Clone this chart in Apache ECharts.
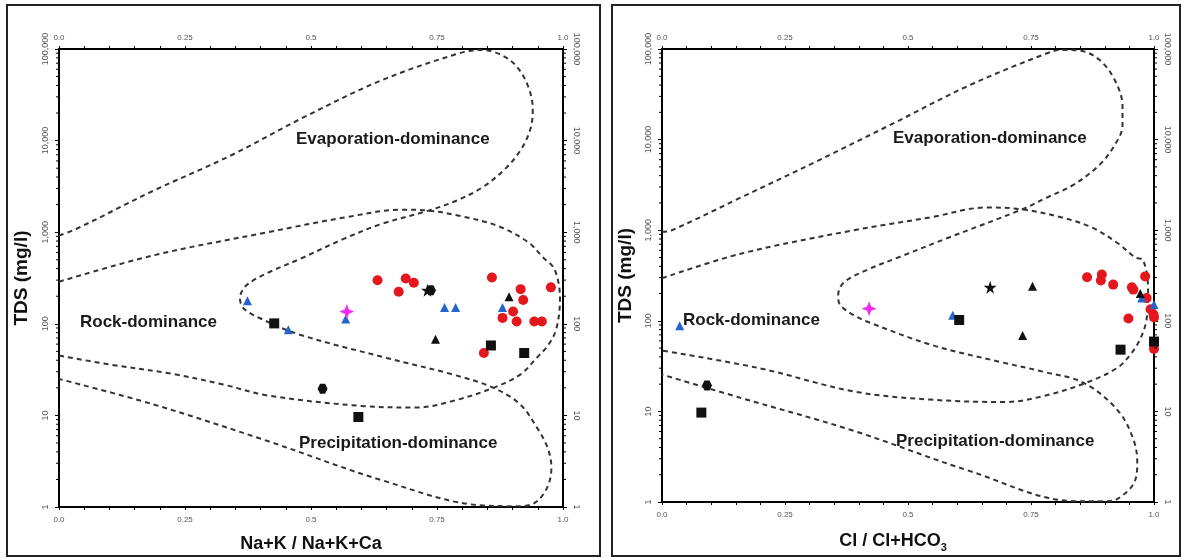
<!DOCTYPE html>
<html><head><meta charset="utf-8">
<script src="https://cdn.jsdelivr.net/npm/echarts@6/dist/echarts.min.js"></script>
<style>html,body{margin:0;padding:0;background:#fff}#c{width:1182px;height:558px}</style>
</head><body><div id="c"></div>
<script>
// ---- tick labels ----
const xTickValues = [0, 0.25, 0.5, 0.75, 1.0];
const xTickLabels = ['0.0', '0.25', '0.5', '0.75', '1.0'];
const yTickValues = [1, 10, 100, 1000, 10000, 100000];
const yTickLabels = ['1', '10', '100', '1,000', '10,000', '100,000'];
const yMinorDecades = [1, 10, 100, 1000, 10000];
const yMinorMultipliers = [2, 3, 4, 5, 6, 7, 8, 9];

// ---- axis titles / region labels ----
const leftXName = 'Na+K / Na+K+Ca';
const rightXName = 'Cl / Cl+HCO{sub|3}';
const yName = 'TDS (mg/l)';
const regionNames = ['Evaporation-dominance', 'Rock-dominance', 'Precipitation-dominance'];

// ---- Gibbs boundary curves, left panel [ratio, TDS] ----
const leftCurve1 = [[0,920],[0.035,1090],[0.187,2830],[0.339,6800],[0.49,18500],[0.642,46000],[0.794,89700],[0.84,97700],[0.878,86000],[0.908,64500],[0.931,38900],[0.94,21900],[0.935,13200],[0.916,7900],[0.885,4900],[0.84,3090],[0.787,2190],[0.733,1720],[0.64,1230],[0.566,850],[0.478,510],[0.419,370],[0.372,263],[0.359,190],[0.366,148],[0.399,115],[0.478,76],[0.65,42.4],[0.782,27.9],[0.862,20],[0.915,13.2],[0.948,7.4],[0.969,4.5],[0.977,2.7],[0.969,1.65],[0.946,1.13],[0.916,1.02],[0.84,1.04],[0.642,1.95],[0.414,5.25],[0.187,13.2],[0,25]];
const leftCurve2 = [[0,288],[0.187,558],[0.414,1000],[0.566,1445],[0.68,1760],[0.733,1720],[0.794,1510],[0.87,1175],[0.931,776],[0.962,520],[0.98,420],[0.99,300],[0.994,190],[0.987,89],[0.971,59],[0.948,42.6],[0.915,27.9],[0.862,20],[0.782,14.4],[0.71,12.2],[0.597,12.7],[0.414,16.5],[0.326,21.7],[0.224,28.5],[0.1,36],[0,45]];

// ---- Gibbs boundary curves, right panel [ratio, TDS] ----
const rightCurve1 = [[0,955],[0.019,993],[0.16,2290],[0.314,5750],[0.467,14800],[0.621,38900],[0.774,86100],[0.813,97700],[0.851,95500],[0.889,75900],[0.92,45700],[0.936,23400],[0.936,14300],[0.92,8700],[0.889,5250],[0.836,3160],[0.782,2290],[0.732,1700],[0.583,830],[0.484,510],[0.416,363],[0.369,263],[0.358,190],[0.362,150],[0.39,115],[0.423,95],[0.551,53.5],[0.687,35.2],[0.774,27.5],[0.859,20.4],[0.928,10],[0.959,4.75],[0.966,2.65],[0.959,1.61],[0.928,1.1],[0.905,1.02],[0.843,1.02],[0.621,2.24],[0.39,6.1],[0.16,14.1],[0,25.5]];
const rightCurve2 = [[0,295],[0.16,550],[0.39,1000],[0.544,1380],[0.66,1780],[0.732,1700],[0.813,1380],[0.874,1070],[0.928,708],[0.962,500],[0.978,468],[0.988,219],[0.985,105],[0.972,63],[0.951,41.7],[0.924,29.9],[0.859,20.4],[0.774,14.7],[0.697,12.7],[0.544,13.5],[0.39,16.6],[0.199,29.9],[0,47]];

// ---- samples, left panel (Na+K / Na+K+Ca, TDS) ----
const leftRed = [[0.632,299],[0.674,224],[0.688,312],[0.704,281],[0.859,320],[0.916,239],[0.921,182],[0.901,136],[0.88,116],[0.908,106],[0.943,106],[0.958,106],[0.976,250],[0.843,48]];
const leftBlueTri = [[0.374,179],[0.455,86],[0.569,113],[0.765,151],[0.787,151],[0.88,151]];
const leftBlackTri = [[0.893,198],[0.747,68]];
const leftBlackSq = [[0.427,101],[0.857,58],[0.923,48],[0.594,9.6]];
const leftBlackHex = [[0.523,19.5],[0.738,232]];
const leftStar = [[0.731,233]];
const leftMagenta = [[0.571,136]];

// ---- samples, right panel (Cl / Cl+HCO3, TDS) ----
const rightRed = [[0.864,302],[0.892,279],[0.894,324],[0.917,251],[0.955,234],[0.958,221],[0.982,309],[0.985,178],[0.993,134],[0.999,117],[1.0,109],[0.948,106],[1.0,49]];
const rightBlueTri = [[0.036,88],[0.591,115],[0.975,178],[1.0,151]];
const rightBlackTri = [[0.753,240],[0.733,69],[0.972,200]];
const rightBlackSq = [[0.604,102],[0.932,48],[1.0,59],[0.08,9.7]];
const rightBlackHex = [[0.0915,19.3]];
const rightStar = [[0.667,234]];
const rightMagenta = [[0.421,136]];

const FONT = '"Liberation Sans", Arial, sans-serif';
const STAR5 = 'path://M50,0 L61,35 L98,35 L68,57 L79,91 L50,70 L21,91 L32,57 L2,35 L39,35 Z';
const STAR4 = 'path://M50,0 L64,36 L100,50 L64,64 L50,100 L36,64 L0,50 L36,36 Z';
const HEX = 'path://M25,0 L75,0 L100,43 L75,87 L25,87 L0,43 Z';

const minorTickData = [];
yMinorDecades.forEach(d => yMinorMultipliers.forEach(m => minorTickData.push([0, d * m])));

function fmtX(v) {
  const i = xTickValues.findIndex(t => Math.abs(t - v) < 1e-6);
  return i >= 0 ? xTickLabels[i] : '';
}
function fmtY(v) {
  const i = yTickValues.findIndex(t => Math.abs(Math.log10(t) - Math.log10(v)) < 1e-6);
  return i >= 0 ? yTickLabels[i] : '';
}

const axisLine = {show: true, onZero: false, lineStyle: {color: '#000', width: 2}};
const nameStyle = {fontFamily: FONT, fontWeight: 'bold', fontSize: 18, color: '#111'};

function makeX(gi, name, pos, extraNameStyle) {
  const a = {
    type: 'value', gridIndex: gi, position: pos, min: 0, max: 1, interval: 0.25,
    axisLine: axisLine,
    axisTick: {show: true, length: 3, lineStyle: {color: '#000', width: 1}},
    minorTick: {show: true, splitNumber: 5, length: 3, lineStyle: {color: '#000', width: 1}},
    splitLine: {show: false}, minorSplitLine: {show: false},
    axisLabel: {fontSize: 8, color: '#555', fontFamily: FONT, formatter: fmtX, margin: pos === 'top' ? 7 : 9}
  };
  if (name) {
    a.name = name; a.nameLocation = 'middle'; a.nameGap = 28;
    a.nameTextStyle = Object.assign({}, nameStyle, extraNameStyle || {});
  }
  return a;
}
function makeY(gi, pos, gap) {
  const a = {
    type: 'log', logBase: 10, gridIndex: gi, position: pos, min: 1, max: 100000, splitNumber: 5,
    axisLine: axisLine,
    axisTick: {show: true, length: 4, lineStyle: {color: '#000', width: 1}},
    splitLine: {show: false},
    axisLabel: {fontSize: 9, color: '#555', fontFamily: FONT, formatter: fmtY, rotate: pos === 'left' ? 90 : -90, margin: 9}
  };
  if (pos === 'left') {
    a.name = yName; a.nameLocation = 'middle'; a.nameGap = gap; a.nameTextStyle = Object.assign({}, nameStyle, {fontSize: 19});
  }
  return a;
}

function curve(data, xi) {
  return {type: 'line', xAxisIndex: xi, yAxisIndex: xi, data: data, showSymbol: false, symbol: 'none',
    smooth: 0.35, silent: true, z: 2,
    lineStyle: {type: [5, 4], width: 2, color: '#333'}};
}
function pts(data, xi, symbol, size, color) {
  return {type: 'scatter', xAxisIndex: xi, yAxisIndex: xi, data: data, symbol: symbol, symbolSize: size,
    itemStyle: {color: color, opacity: 1}, z: 5, silent: true};
}
function minorTicks(xi) {
  return {type: 'custom', xAxisIndex: xi, yAxisIndex: xi, data: minorTickData, silent: true, clip: false, z: 6,
    renderItem: function (params, api) {
      const p = api.coord([0, api.value(1)]);
      const cs = params.coordSys;
      return {type: 'group', children: [
        {type: 'line', shape: {x1: cs.x - 3, y1: p[1], x2: cs.x, y2: p[1]}, style: {stroke: '#000', lineWidth: 1}},
        {type: 'line', shape: {x1: cs.x + cs.width, y1: p[1], x2: cs.x + cs.width + 3, y2: p[1]}, style: {stroke: '#000', lineWidth: 1}}
      ]};
    }};
}

const red = '#e4171d', blue = '#2464cc', black = '#111', magenta = '#f52cf5';

function region(text, x, y) {
  return {type: 'text', x: x, y: y, z: 10, silent: true,
    style: {text: text, fontFamily: FONT, fontWeight: 'bold', fontSize: 17, fill: '#1a1a1a', verticalAlign: 'middle', align: 'left'}};
}

const option = {
  animation: false,
  backgroundColor: '#fff',
  grid: [
    {left: 59, top: 49, width: 504, height: 461},
    {left: 662, top: 49, width: 492, height: 460}
  ],
  xAxis: [
    makeX(0, leftXName, 'bottom'),
    makeX(0, null, 'top'),
    makeX(1, rightXName, 'bottom', {padding: [0, 30, 0, 0], rich: {sub: {fontFamily: FONT, fontWeight: 'bold', fontSize: 11, color: '#111', padding: [12, 0, 0, 0]}}}),
    makeX(1, null, 'top')
  ],
  yAxis: [
    makeY(0, 'left', 28), makeY(0, 'right'),
    makeY(1, 'left', 27), makeY(1, 'right')
  ],
  series: [
    curve(leftCurve1, 0), curve(leftCurve2, 0),
    pts(leftRed, 0, 'circle', 10, red),
    pts(leftBlueTri, 0, 'triangle', 9, blue),
    pts(leftBlackTri, 0, 'triangle', 9, black),
    pts(leftBlackSq, 0, 'rect', 10, black),
    pts(leftBlackHex, 0, HEX, 10, black),
    pts(leftStar, 0, STAR5, 13, black),
    pts(leftMagenta, 0, STAR4, 15, magenta),
    minorTicks(0),
    curve(rightCurve1, 2), curve(rightCurve2, 2),
    pts(rightRed, 2, 'circle', 10, red),
    pts(rightBlueTri, 2, 'triangle', 9, blue),
    pts(rightBlackTri, 2, 'triangle', 9, black),
    pts(rightBlackSq, 2, 'rect', 10, black),
    pts(rightBlackHex, 2, HEX, 10, black),
    pts(rightStar, 2, STAR5, 13, black),
    pts(rightMagenta, 2, STAR4, 15, magenta),
    minorTicks(2)
  ],
  graphic: [
    {type: 'rect', shape: {x: 7, y: 5, width: 593, height: 551}, style: {fill: 'none', stroke: '#222', lineWidth: 2}, silent: true},
    {type: 'rect', shape: {x: 612, y: 5, width: 568, height: 551}, style: {fill: 'none', stroke: '#222', lineWidth: 2}, silent: true},
    region(regionNames[0], 296, 139),
    region(regionNames[1], 80, 322),
    region(regionNames[2], 299, 443),
    region(regionNames[0], 893, 138),
    region(regionNames[1], 683, 320),
    region(regionNames[2], 896, 441)
  ]
};
const chart = echarts.init(document.getElementById('c'));
chart.setOption(option);
</script></body></html>
